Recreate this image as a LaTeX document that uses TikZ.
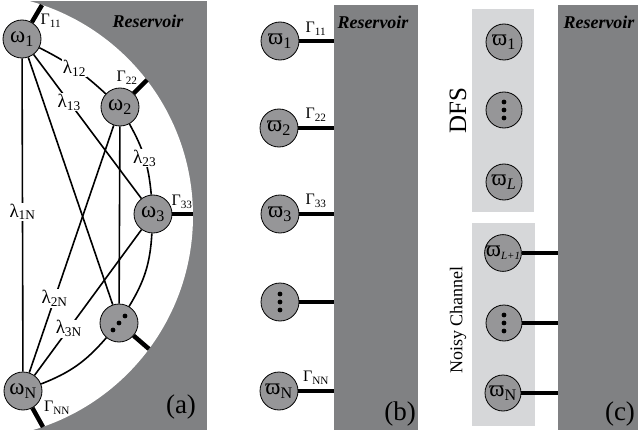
\documentclass[tikz,border=0pt]{standalone}
\usepackage{fontspec}
\setmainfont{Liberation Serif}
\usetikzlibrary{calc}
\definecolor{resg}{RGB}{128,129,131}
\definecolor{nodeg}{RGB}{150,150,152}
\definecolor{lightg}{RGB}{214,215,217}
\newcommand{\pw}{\symbol{"03D6}}
\begin{document}
\begin{tikzpicture}[x=1pt,y=-1pt,
  wnode/.style={circle, draw=black, line width=0.8pt, fill=nodeg, minimum size=38pt, inner sep=0pt, font=\fontsize{23}{23}\selectfont},
  gline/.style={line width=4.5pt},
  lline/.style={line width=1.6pt},
  lab/.style={fill=white, inner sep=1pt, font=\fontsize{19}{19}\selectfont},
  glab/.style={inner sep=0pt, font=\fontsize{16}{16}\selectfont},
  reslab/.style={font=\fontsize{18}{18}\selectfont\bfseries\itshape, inner sep=0pt},
  panlab/.style={font=\fontsize{27}{27}\selectfont, inner sep=0pt},
  dotc/.style={fill=black}
]
\useasboundingbox (0,0) rectangle (638,436);
% ---------- panel (a) ----------
\begin{scope}
  \clip (0,1) rectangle (207,430);
  \fill[resg] (0,1) rectangle (207,430);
  \fill[white] (-30,216) circle[radius=223];
\end{scope}
\node[reslab] (resa) at (148,21) {Reservoir};
\node[panlab] (pa) at (181,407) {(a)};

\node[wnode] (w1) at (22,39) {ω\textsubscript{1}};
\node[wnode] (w2) at (120,107) {ω\textsubscript{2}};
\node[wnode] (w3) at (153,214) {ω\textsubscript{3}};
\node[wnode] (wd) at (119,323) {};
\node[wnode] (wN) at (23,391) {ω\textsubscript{N}};
\fill[dotc] ($(wd)+(-6,7)$) circle[radius=2.4];
\fill[dotc] (wd) circle[radius=2.4];
\fill[dotc] ($(wd)+(6,-7)$) circle[radius=2.4];

\coordinate (g1) at (42,5);
\coordinate (g2) at (147,80);
\coordinate (g3) at (193,214);
\coordinate (gd) at (149,349);
\coordinate (gN) at (43,427);
\draw[gline] (w1) -- (g1);
\draw[gline] (w2) -- (g2);
\draw[gline] (w3) -- (g3);
\draw[gline] (wd) -- (gd);
\draw[gline] (wN) -- (gN);
\node[glab] (G11a) at (51,21) {Γ\textsubscript{11}};
\node[glab] (G22a) at (127,78) {Γ\textsubscript{22}};
\node[glab] (G33a) at (182,202) {Γ\textsubscript{33}};
\node[glab] (GNNa) at (57,408) {Γ\textsubscript{NN}};

\draw[lline] (w1) to[bend left=8] node[lab, pos=0.5] {λ\textsubscript{12}} (w2);
\draw[lline] (w2) to[bend left=12] node[lab, pos=0.5] {λ\textsubscript{23}} (w3);
\draw[lline] (w3) to[bend left=14] (wd);
\draw[lline] (wd) to[bend left=14] (wN);
\draw[lline] (w1) -- (wd);
\draw[lline] (w2) -- (wd);
\draw[lline] (w1) -- node[lab, pos=0.33] {λ\textsubscript{13}} (w3);
\draw[lline] (w1) -- node[lab, pos=0.49] {λ\textsubscript{1N}} (wN);
\draw[lline] (w2) -- node[lab, pos=0.70] {λ\textsubscript{2N}} (wN);
\draw[lline] (w3) -- node[lab, pos=0.68] {λ\textsubscript{3N}} (wN);

% ---------- panel (b) ----------
\fill[resg] (334,5) rectangle (418,430);
\node[reslab] (resb) at (373,22) {Reservoir};
\node[panlab] (pb) at (400,414) {(b)};
\node[wnode] (b1) at (280,41) {\pw\textsubscript{1}};
\node[wnode] (b2) at (279,128) {\pw\textsubscript{2}};
\node[wnode] (b3) at (280,214) {\pw\textsubscript{3}};
\node[wnode] (bd) at (280,302) {};
\node[wnode] (bN) at (279,391) {\pw\textsubscript{N}};
\foreach \d in {-8,0,8} \fill[dotc] ($(bd)+(0,\d)$) circle[radius=2.4];
\coordinate (e1) at (334,41);
\coordinate (e2) at (334,128);
\coordinate (e3) at (334,214);
\coordinate (ed) at (334,302);
\coordinate (eN) at (334,391);
\draw[gline] (b1) -- (e1);
\draw[gline] (b2) -- (e2);
\draw[gline] (b3) -- (e3);
\draw[gline] (bd) -- (ed);
\draw[gline] (bN) -- (eN);
\node[glab] (G11b) at (316,29) {Γ\textsubscript{11}};
\node[glab] (G22b) at (316,115) {Γ\textsubscript{22}};
\node[glab] (G33b) at (316,201) {Γ\textsubscript{33}};
\node[glab] (GNNb) at (316,378) {Γ\textsubscript{NN}};

% ---------- panel (c) ----------
\fill[lightg] (472,9) rectangle (534,212);
\fill[lightg] (472,223) rectangle (535,426);
\fill[resg] (558,5) rectangle (638,430);
\node[reslab] (resc) at (599,22) {Reservoir};
\node[panlab] (pc) at (620,414) {(c)};
\node[font=\fontsize{25}{25}\selectfont, rotate=90, inner sep=0pt] (dfs) at (458,111) {DFS};
\node[font=\fontsize{18}{18}\selectfont, rotate=90, inner sep=0pt] (noisy) at (458,320) {Noisy Channel};
\node[wnode, minimum size=36pt] (c1) at (504,42) {\pw\textsubscript{1}};
\node[wnode, minimum size=36pt] (cd) at (504,110) {};
\node[wnode, minimum size=36pt] (cL) at (504,182) {\pw\textsubscript{\itshape L}};
\node[wnode, minimum size=36pt] (cL1) at (503,253) {\pw\raisebox{-0.3ex}{\fontsize{11}{11}\selectfont\itshape L+1}};
\node[wnode, minimum size=36pt] (cd2) at (504,323) {};
\node[wnode, minimum size=36pt] (cN) at (503,393) {\pw\textsubscript{N}};
\foreach \d in {-8,0,8} \fill[dotc] ($(cd)+(0,\d)$) circle[radius=2.4];
\foreach \d in {-8,0,8} \fill[dotc] ($(cd2)+(0,\d)$) circle[radius=2.4];
\coordinate (f1) at (558,253);
\coordinate (f2) at (558,323);
\coordinate (f3) at (558,393);
\draw[gline] (cL1) -- (f1);
\draw[gline] (cd2) -- (f2);
\draw[gline] (cN) -- (f3);
\end{tikzpicture}
\end{document}
